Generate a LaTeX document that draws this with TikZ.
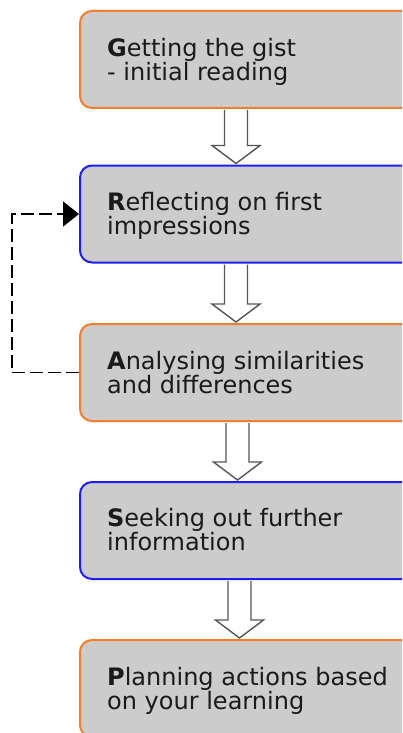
\documentclass[tikz,border=0pt]{standalone}
\usepackage{fontspec}
\setmainfont{DejaVu Sans}
\usetikzlibrary{arrows.meta,calc}

\definecolor{boxfill}{RGB}{204,204,204}
\definecolor{edgeorange}{RGB}{245,125,40}
\definecolor{edgeblue}{RGB}{30,30,240}
\definecolor{arrowgray}{RGB}{85,85,85}
\definecolor{inktext}{RGB}{26,26,26}

% hollow block arrow: #1 upper node, #2 lower node, #3 coordinate giving the axis
\newcommand\hollowarrow[3]{%
  \draw[hollow]
    ($(#1.south -| #3)+(-11.5,-1)$) -- ($(#2.north -| #3)+(-11.5,19)$)
    -- ($(#2.north -| #3)+(-24,19)$) -- ($(#2.north -| #3)+(0,1)$)
    -- ($(#2.north -| #3)+(24,19)$) -- ($(#2.north -| #3)+(11.5,19)$)
    -- ($(#1.south -| #3)+(11.5,-1)$);
}

\begin{document}
\begin{tikzpicture}[x=1pt,y=1pt,
  stepbox/.style={draw, line width=2pt, fill=boxfill, rounded corners=12pt,
    minimum width=335pt, minimum height=97pt, anchor=west, inner sep=0pt},
  orangebox/.style={stepbox, draw=edgeorange},
  bluebox/.style={stepbox, draw=edgeblue},
  steptext/.style={anchor=north west, inner sep=0pt, align=left,
    font=\fontsize{24}{24}\selectfont, text=inktext},
  hollow/.style={draw=arrowgray, line width=1.4pt, fill=white, line join=miter},
  feedback/.style={draw=black, line width=1.8pt, dash pattern=on 13pt off 5pt,
    -{Triangle[length=16pt,width=25pt]}}
]
\useasboundingbox (0,0) rectangle (402,-733);
\clip (0,0) rectangle (402,-733);

% the five stages
\node[orangebox] (g) at (79,-59.5) {};
\node[bluebox]   (r) at (79,-214) {};
\node[orangebox] (a) at (79,-372.5) {};
\node[bluebox]   (s) at (79,-530.5) {};
\node[orangebox] (p) at (79,-688.5) {};

\node[steptext] (gt) at ($(g.north west)+(28,-28)$)
  {\rule{0pt}{18pt}\textbf{G}etting the gist\\- initial reading};
\node[steptext] (rt) at ($(r.north west)+(28,-28)$)
  {\rule{0pt}{18pt}\textbf{R}eflecting on first\\impressions};
\node[steptext] (at) at ($(a.north west)+(28,-28)$)
  {\rule{0pt}{18pt}\textbf{A}nalysing similarities\\and differences};
\node[steptext] (st) at ($(s.north west)+(28,-27)$)
  {\rule{0pt}{18pt}\textbf{S}eeking out further\\information};
\node[steptext] (pt) at ($(p.north west)+(28,-28)$)
  {\rule{0pt}{18pt}\textbf{P}lanning actions based\\on your learning};

% axes of the block arrows
\coordinate (ax1) at (236,0);
\coordinate (ax2) at (236,0);
\coordinate (ax3) at (237.5,0);
\coordinate (ax4) at (239.5,0);

\hollowarrow{g}{r}{ax1}
\hollowarrow{r}{a}{ax2}
\hollowarrow{a}{s}{ax3}
\hollowarrow{s}{p}{ax4}

% feedback loop from analysing back to reflecting
\coordinate (loop) at (12,-300);
\draw[feedback] (a.west) -- (a.west -| loop) |- (r.west);
\end{tikzpicture}
\end{document}
